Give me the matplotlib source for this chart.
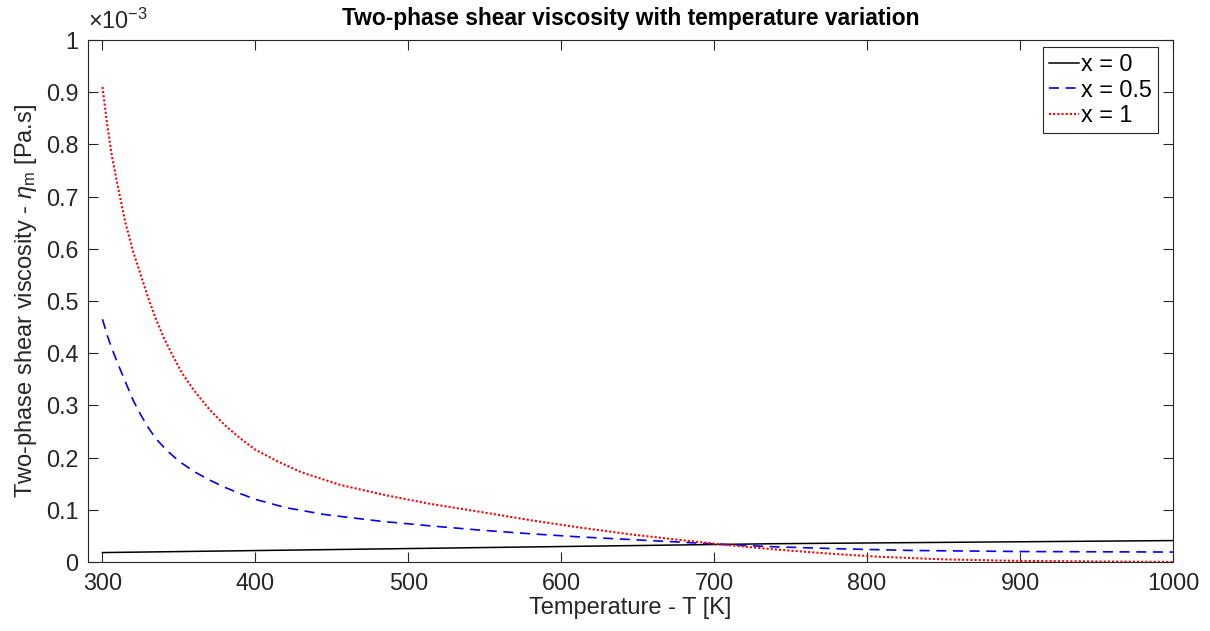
import numpy as np
import matplotlib
matplotlib.use("Agg")
import matplotlib.pyplot as plt

plt.rcParams['font.family'] = ['Liberation Sans', 'DejaVu Sans']
plt.rcParams['mathtext.fontset'] = 'custom'
plt.rcParams['mathtext.rm'] = 'Liberation Sans'
plt.rcParams['mathtext.it'] = 'Liberation Sans:italic'

# values, viscosity in units of 1e-3 Pa.s
T_x0 = [300, 482, 740, 1000]
eta_x0 = [0.018, 0.025, 0.035, 0.041]

T_x05 = [300, 303, 306, 310, 315, 320, 325, 330, 335, 342, 350, 360, 370, 380,
         390, 400, 420, 445, 482, 515, 547, 580, 612, 645, 678, 710, 740, 785,
         830, 900, 1000]
eta_x05 = [0.465, 0.435, 0.41, 0.38, 0.345, 0.31, 0.282, 0.257, 0.236, 0.214,
           0.193, 0.173, 0.157, 0.143, 0.131, 0.120, 0.104, 0.091, 0.078, 0.069,
           0.061, 0.054, 0.048, 0.043, 0.038, 0.033, 0.029, 0.025, 0.022, 0.020,
           0.019]

T_x1 = [300, 303, 306, 310, 315, 320, 325, 330, 335, 340, 346, 352, 360, 370,
        380, 390, 400, 415, 430, 455, 485, 515, 547, 580, 612, 645, 678, 710,
        740, 775, 808, 850, 900, 950, 1000]
eta_x1 = [0.91, 0.84, 0.78, 0.72, 0.65, 0.595, 0.55, 0.505, 0.465, 0.43, 0.395,
          0.362, 0.328, 0.292, 0.262, 0.237, 0.215, 0.192, 0.172, 0.148, 0.128,
          0.111, 0.096, 0.080, 0.066, 0.053, 0.042, 0.032, 0.024, 0.016, 0.010,
          0.005, 0.002, 0.001, 0.0]

xticks = np.arange(300, 1001, 100)
yticks = np.round(np.arange(0, 1.01, 0.1), 1)
ytick_labels = ['0'] + ['%.1f' % v for v in yticks[1:-1]] + ['1']

ink = '#262626'
fs = 16.8

fig = plt.figure(figsize=(12.1, 6.31), dpi=100)
ax = fig.add_axes([0.0727, 0.1094, 0.8967, 0.8272])

ax.plot(T_x0, eta_x0, '-', color='black', lw=1.1, label='x = 0')
ax.plot(T_x05, eta_x05, '--', color='blue', lw=1.2, dashes=(6, 4), label='x = 0.5')
ax.plot(T_x1, eta_x1, ':', color='red', lw=1.5, dashes=(1, 1), label='x = 1')

ax.set_xlim(290.5, 1000)
ax.set_ylim(0, 1)
ax.set_xticks(xticks)
ax.set_yticks(yticks)
ax.set_yticklabels(ytick_labels)
ax.tick_params(direction='in', top=True, right=True, length=7, width=0.8,
               labelsize=fs, colors=ink, labelcolor=ink, pad=7)
for s in ax.spines.values():
    s.set_color(ink)
    s.set_linewidth(0.8)

ax.set_xlabel('Temperature - T [K]', fontsize=17, color=ink, labelpad=2)
ax.set_ylabel(r'Two-phase shear viscosity - $\eta_{\rm m}$ [Pa.s]', fontsize=17,
              color=ink, labelpad=5)
ax.set_title('Two-phase shear viscosity with temperature variation',
             fontsize=16.4, fontweight='bold', pad=11)
ax.text(0.0, 1.012, r'$\times10^{-3}$', transform=ax.transAxes, fontsize=fs,
        color=ink, ha='left', va='bottom')

leg = ax.legend(loc='upper right', bbox_to_anchor=(0.9862, 0.9866), fontsize=fs,
                fancybox=False, framealpha=1, edgecolor=ink, handlelength=1.3,
                handletextpad=0.1, borderpad=0.25, labelspacing=0.12,
                borderaxespad=0)
leg.get_frame().set_linewidth(0.8)

fig.savefig('out.png', dpi=100)
